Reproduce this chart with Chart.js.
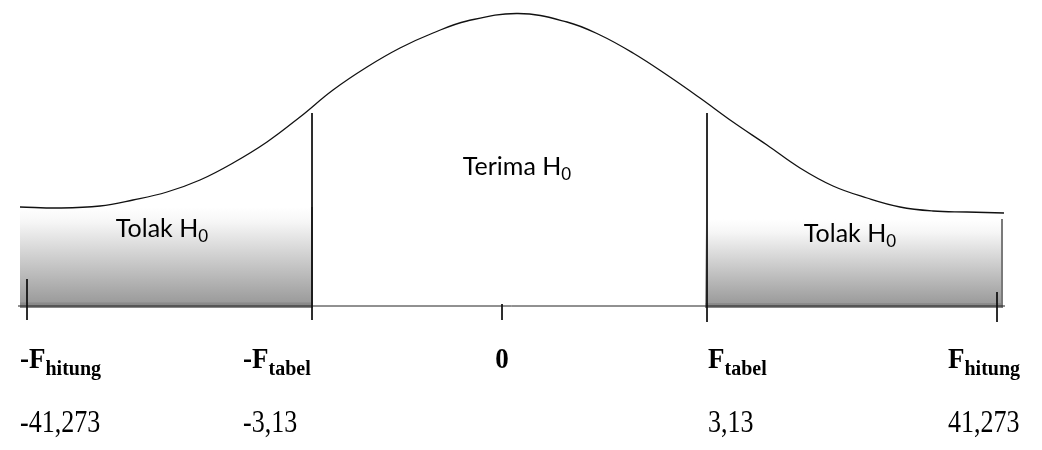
<!DOCTYPE html>
<html>
<head>
<meta charset="utf-8">
<script src="https://cdn.jsdelivr.net/npm/chart.js@4.4.1/dist/chart.umd.min.js"></script>
<style>
  html, body { margin: 0; padding: 0; background: #fff; }
  #wrap { width: 1042px; height: 450px; }
</style>
</head>
<body>
<div id="wrap"><canvas id="chart"></canvas></div>
<script>
// curve (x in 100px units from 0, y in 100px units above the axis)
const curveX = [-4.82, -4.42, -4.02, -3.69, -3.35, -3.02, -2.69, -2.35, -2.02, -1.69, -1.35, -1.02, -0.69, -0.35, 0.16, 0.65, 0.98, 1.31, 1.65, 1.98, 2.31, 2.65, 2.98, 3.31, 3.65, 3.98, 4.31, 4.65, 5.02];
const curveY = [0.99, 0.98, 1.00, 1.06, 1.14, 1.26, 1.43, 1.64, 1.89, 2.16, 2.39, 2.58, 2.73, 2.85, 2.925, 2.84, 2.71, 2.53, 2.31, 2.08, 1.84, 1.61, 1.38, 1.20, 1.08, 0.99, 0.95, 0.94, 0.93];

// rejection regions
const regionStart = [-4.82, 2.03];
const regionEnd = [-1.90, 5.00];
const regionTop = [0.99, 0.87];
const regionBottom = -0.02;

// axis line + tick marks
const axisX = [-4.84, 5.03];
const tickX = [-4.75, -1.90, 0, 2.05, 4.95];
const tickTop = [0.27, 1.93, 0.02, 1.93, 0.14];
const tickBottom = [-0.14, -0.14, -0.14, -0.16, -0.16];

// tick labels
const labelMain = ['-F', '-F', '0', 'F', 'F'];
const labelSub = ['hitung', 'tabel', '', 'tabel', 'hitung'];
const valueLabels = ['-41,273', '-3,13', '', '3,13', '41,273'];
const labelAnchor = [-4.82, -2.59, 0, 2.06, 4.46];

// region captions
const regionText = ['Tolak H', 'Tolak H', 'Terima H'];
const regionTextX = [-3.40, 3.48, 0.15];
const regionTextY = [0.69, 0.64, 1.31];

const el = (id) => document.getElementById(id);

function regionFill(i) {
  return (ctx) => {
    const c = ctx.chart;
    if (!c.chartArea) return '#ccc';
    const y = c.scales.y;
    const y0 = y.getPixelForValue(regionTop[i]);
    const y1 = y.getPixelForValue(regionBottom);
    const g = c.ctx.createLinearGradient(0, y0, 0, y1);
    g.addColorStop(0, '#ffffff');
    g.addColorStop(0.15, '#f6f6f6');
    g.addColorStop(0.94, '#9c9c9c');
    g.addColorStop(0.95, '#8a8a8a');
    g.addColorStop(1, '#888888');
    return g;
  };
}

const datasets = [];

regionStart.forEach((x0, i) => {
  datasets.push({
    data: [{ x: x0, y: regionTop[i] }, { x: regionEnd[i], y: regionTop[i] }, { x: regionEnd[i], y: regionBottom }],
    backgroundColor: regionFill(i),
    fill: { value: regionBottom },
    borderWidth: 2,
    segment: { borderColor: (s) => s.p0DataIndex === 1 ? '#7a7a7a' : 'rgba(0,0,0,0)' },
    pointRadius: 0,
    tension: 0,
    order: 10
  });
});

datasets.push({
  data: axisX.map(x => ({ x, y: 0 })),
  borderColor: '#222', borderWidth: 1, pointRadius: 0, fill: false, order: 5
});

tickX.forEach((x, i) => {
  datasets.push({
    data: [{ x, y: tickTop[i] }, { x, y: tickBottom[i] }],
    borderColor: '#111', borderWidth: 1, pointRadius: 0, fill: false, order: 2
  });
});

datasets.push({
  data: curveX.map((x, i) => ({ x, y: curveY[i] })),
  borderColor: '#111', borderWidth: 1.3, pointRadius: 0, fill: false,
  tension: 0.4, order: 1
});

// text drawn with a vertical stretch, like the squashed original
function stretchText(ctx, s, x, y, sy) {
  ctx.save();
  ctx.translate(x, y);
  ctx.scale(1, sy);
  ctx.fillText(s, 0, 0);
  ctx.restore();
}

const textPlugin = {
  id: 'texts',
  afterDatasetsDraw(c) {
    const { ctx } = c;
    const xs = c.scales.x, ys = c.scales.y;
    ctx.save();
    ctx.fillStyle = '#000';
    ctx.textBaseline = 'alphabetic';
    ctx.textAlign = 'left';

    // region captions with subscript 0
    regionText.forEach((t, i) => {
      ctx.font = '25px Lato';
      const w1 = ctx.measureText(t).width;
      ctx.font = '17px Lato';
      const w2 = ctx.measureText('0').width;
      const x = xs.getPixelForValue(regionTextX[i]) - (w1 + w2) / 2;
      const y = ys.getPixelForValue(regionTextY[i]);
      ctx.font = '25px Lato';
      ctx.fillText(t, x, y);
      ctx.font = '17px Lato';
      ctx.fillText('0', x + w1, y + 5);
    });

    // symbol labels + values
    labelMain.forEach((m, i) => {
      const y = ys.getPixelForValue(-0.62);
      ctx.font = 'bold 27px "Liberation Serif"';
      const w1 = ctx.measureText(m).width;
      let x = xs.getPixelForValue(labelAnchor[i]);
      if (!labelSub[i]) x -= w1 / 2;
      stretchText(ctx, m, x, y, 1.1);
      ctx.font = 'bold 20px "Liberation Serif"';
      stretchText(ctx, labelSub[i], x + w1, y + 7, 1.1);

      if (valueLabels[i]) {
        ctx.font = '26px "Liberation Serif"';
        stretchText(ctx, valueLabels[i], x, ys.getPixelForValue(-1.26), 1.25);
      }
    });
    ctx.restore();
  }
};

new Chart(el('chart'), {
  type: 'line',
  data: { datasets },
  options: {
    responsive: true,
    maintainAspectRatio: false,
    animation: false,
    layout: { padding: 0 },
    plugins: { legend: { display: false }, tooltip: { enabled: false } },
    scales: {
      x: { type: 'linear', min: -5.02, max: 5.40, display: false },
      y: { type: 'linear', min: -1.44, max: 3.06, display: false }
    }
  },
  plugins: [textPlugin]
});
</script>
</body>
</html>
